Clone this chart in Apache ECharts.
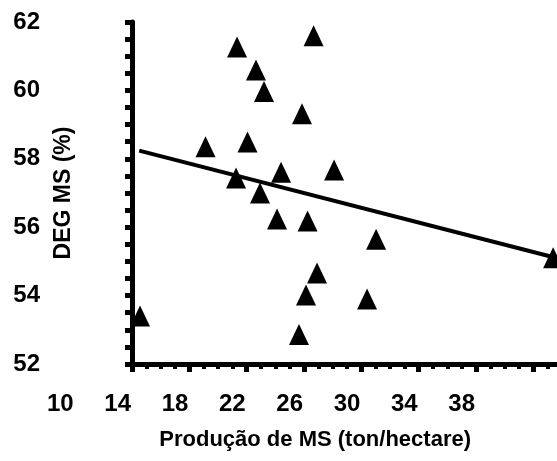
<!DOCTYPE html>
<html>
<head>
<meta charset="utf-8">
<script src="https://cdn.jsdelivr.net/npm/echarts@6/dist/echarts.min.js"></script>
<style>
  html, body { margin: 0; padding: 0; background: #fff; }
  #chart { width: 557px; height: 461px; }
</style>
</head>
<body>
<div id="chart"></div>
<script>
// producao de MS (x) e DEG MS (y)
const prodMS = [22.33, 23.65, 24.21, 27.67, 26.86, 20.13, 23.06, 22.26, 25.4, 29.1,
  23.93, 25.12, 27.25, 32.03, 27.91, 27.14, 31.4, 26.65, 15.56, 44.38];
const degMS = [61.27, 60.6, 59.97, 61.6, 59.32, 58.35, 58.49, 57.44, 57.61, 57.67,
  57.0, 56.24, 56.18, 55.65, 54.66, 54.02, 53.9, 52.86, 53.4, 55.11];

// linha de tendencia (inicio e fim)
const trendX = [15.5, 45];
const trendY = [58.24, 55.06];

const xTickLabels = [10, 14, 18, 22, 26, 30, 34, 38];
const yTickLabels = [52, 54, 56, 58, 60, 62];

const font = "'Liberation Sans', Arial, sans-serif";

const chart = echarts.init(document.getElementById("chart"), null, { renderer: "canvas" });

const option = {
  backgroundColor: "#fff",
  animation: false,
  grid: [
    // area do grafico
    { left: 132, right: -5, top: 22, bottom: 97, outerBoundsMode: "none", containLabel: false },
    // so para os rotulos do eixo x (comecam em 10)
    { left: 60.3, right: -5, top: 22, bottom: 97, outerBoundsMode: "none", containLabel: false },
  ],
  xAxis: [
    {
      type: "value",
      gridIndex: 0,
      min: 15,
      max: 45,
      interval: 4,
      axisLine: { lineStyle: { color: "#000", width: 5 } },
      axisTick: { show: true, length: 8, lineStyle: { color: "#000", width: 5 } },
      minorTick: { show: true, splitNumber: 4, length: 5, lineStyle: { color: "#000", width: 4 } },
      axisLabel: { show: false },
      splitLine: { show: false },
    },
    {
      type: "value",
      gridIndex: 1,
      min: 10,
      max: 45,
      interval: 4,
      axisLine: { show: false },
      axisTick: { show: false },
      splitLine: { show: false },
      axisLabel: {
        margin: 28,
        color: "#000",
        fontFamily: font,
        fontWeight: "bold",
        fontSize: 24,
        formatter: (v) => (xTickLabels.includes(v) ? String(v) : ""),
      },
      name: "Produção de MS (ton/hectare)",
      nameLocation: "middle",
      nameGap: 65,
      nameMoveOverlap: false,
      nameTextStyle: {
        color: "#000",
        fontFamily: font,
        fontWeight: "bold",
        fontSize: 22,
        padding: [0, 0, 0, 8],
      },
    },
  ],
  yAxis: [
    {
      type: "value",
      gridIndex: 0,
      min: yTickLabels[0],
      max: yTickLabels[yTickLabels.length - 1],
      interval: 2,
      axisLine: { show: true, lineStyle: { color: "#000", width: 5 } },
      axisTick: { show: true, length: 7, lineStyle: { color: "#000", width: 5 } },
      minorTick: { show: true, splitNumber: 4, length: 7, lineStyle: { color: "#000", width: 5 } },
      splitLine: { show: false },
      axisLabel: {
        margin: 92,
        color: "#000",
        fontFamily: font,
        fontWeight: "bold",
        fontSize: 24,
      },
      name: "DEG MS (%)",
      nameLocation: "middle",
      nameGap: 57,
      nameRotate: 90,
      nameMoveOverlap: false,
      nameTextStyle: {
        color: "#000",
        fontFamily: font,
        fontWeight: "bold",
        fontSize: 23,
      },
    },
    {
      type: "value",
      gridIndex: 1,
      show: false,
      min: 52,
      max: 62,
    },
  ],
  series: [
    {
      name: "tendencia",
      type: "line",
      xAxisIndex: 0,
      yAxisIndex: 0,
      data: trendX.map((x, i) => [x, trendY[i]]),
      showSymbol: false,
      symbol: "none",
      lineStyle: { color: "#000", width: 4 },
      z: 2,
    },
    {
      name: "DEG MS",
      type: "scatter",
      xAxisIndex: 0,
      yAxisIndex: 0,
      data: prodMS.map((x, i) => [x, degMS[i]]),
      symbol: "triangle",
      symbolSize: [20, 21],
      itemStyle: { color: "#000", opacity: 1 },
      z: 3,
    },
  ],
};

chart.setOption(option);
</script>
</body>
</html>
